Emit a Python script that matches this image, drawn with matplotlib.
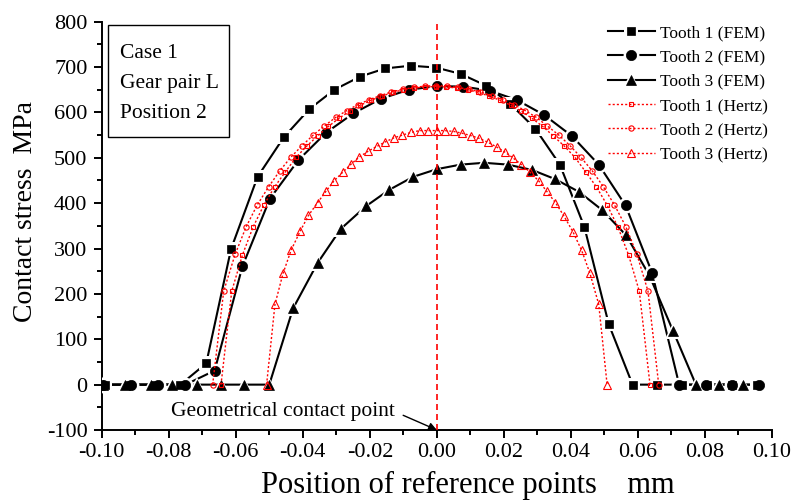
import matplotlib.pyplot as plt
from matplotlib.lines import Line2D
from matplotlib.patches import Rectangle
from matplotlib.ticker import MultipleLocator, FuncFormatter

plt.rcParams['font.family'] = ['Liberation Serif', 'DejaVu Serif']
plt.rcParams['axes.unicode_minus'] = False

# FEM results
x_fem1 = [-0.0990, -0.0915, -0.0840, -0.0765, -0.0688, -0.0614, -0.0535, -0.0457, -0.0381,
          -0.0306, -0.0229, -0.0154, -0.0078, -0.0003, 0.0071, 0.0147, 0.0219, 0.0294,
          0.0367, 0.0440, 0.0513, 0.0584, 0.0656, 0.0730, 0.0805, 0.0880, 0.0955]
y_fem1 = [0, 0, 0, 0, 47, 299, 458, 545, 607, 650, 679, 697, 703, 699, 685, 659, 619, 564,
          485, 348, 133, 0, 0, 0, 0, 0, 0]

x_fem2 = [-0.0996, -0.0914, -0.0831, -0.0750, -0.0663, -0.0580, -0.0498, -0.0413, -0.0331,
          -0.0249, -0.0167, -0.0084, 0.0000, 0.0078, 0.0158, 0.0240, 0.0321, 0.0403,
          0.0483, 0.0563, 0.0642, 0.0723, 0.0803, 0.0882, 0.0961]
y_fem2 = [0, 0, 0, 0, 31, 261, 410, 495, 555, 598, 630, 650, 658, 657, 648, 627, 594, 548,
          485, 395, 247, 0, 0, 0, 0]

x_fem3 = [-0.0995, -0.0929, -0.0854, -0.0789, -0.0715, -0.0644, -0.0576, -0.0500, -0.0429,
          -0.0356, -0.0287, -0.0212, -0.0143, -0.0071, 0.0000, 0.0071, 0.0141, 0.0212,
          0.0285, 0.0353, 0.0424, 0.0493, 0.0565, 0.0634, 0.0705, 0.0773, 0.0842, 0.0914]
y_fem3 = [0, 0, 0, 0, 0, 0, 0, 0, 168, 268, 343, 393, 429, 458, 475, 485, 489, 485,
          473, 453, 425, 385, 329, 241, 118, 0, 0, 0]

# Hertz theory
x_hz1 = [-0.0644, -0.0612, -0.0580, -0.0548, -0.0516, -0.0484, -0.0452, -0.0420, -0.0388,
         -0.0356, -0.0324, -0.0292, -0.0260, -0.0228, -0.0196, -0.0164, -0.0132, -0.0100,
         -0.0068, -0.0036, -0.0004, 0.0028, 0.0060, 0.0092, 0.0124, 0.0156, 0.0188,
         0.0220, 0.0252, 0.0284, 0.0316, 0.0348, 0.0380, 0.0412, 0.0444, 0.0476, 0.0508,
         0.0540, 0.0572, 0.0604, 0.0636]
y_hz1 = [0, 206, 286, 348, 396, 436, 469, 501, 526, 548, 569, 587, 603, 616, 627, 636, 644,
         650, 654, 656, 657, 656, 654, 650, 644, 636, 627, 616, 603, 587, 569, 548, 526,
         501, 469, 436, 396, 348, 286, 206, 0]

x_hz2 = [-0.0669, -0.0636, -0.0602, -0.0569, -0.0536, -0.0502, -0.0469, -0.0436, -0.0402,
         -0.0369, -0.0336, -0.0302, -0.0269, -0.0236, -0.0202, -0.0169, -0.0136, -0.0102,
         -0.0069, -0.0036, -0.0003, 0.0030, 0.0064, 0.0097, 0.0130, 0.0164, 0.0197,
         0.0230, 0.0264, 0.0297, 0.0330, 0.0364, 0.0397, 0.0430, 0.0464, 0.0497, 0.0530,
         0.0564, 0.0597, 0.0630, 0.0662]
y_hz2 = [0, 206, 287, 348, 396, 436, 471, 501, 527, 550, 570, 589, 604, 617, 628, 637, 645,
         651, 655, 658, 659, 658, 655, 651, 645, 637, 628, 617, 604, 589, 570, 550, 527,
         501, 471, 436, 396, 348, 287, 206, 0]

x_hz3 = [-0.0508, -0.0483, -0.0459, -0.0435, -0.0408, -0.0383, -0.0356, -0.0331, -0.0307,
         -0.0281, -0.0256, -0.0231, -0.0204, -0.0179, -0.0154, -0.0128, -0.0103, -0.0077,
         -0.0051, -0.0027, 0.0000, 0.0024, 0.0051, 0.0076, 0.0101, 0.0126, 0.0153, 0.0178,
         0.0202, 0.0227, 0.0252, 0.0277, 0.0304, 0.0328, 0.0354, 0.0379, 0.0406, 0.0432,
         0.0457, 0.0483, 0.0508]
y_hz3 = [0, 177, 245, 296, 338, 373, 401, 426, 449, 468, 486, 502, 515, 525, 535, 544, 550,
         556, 560, 560, 560, 560, 558, 554, 549, 543, 534, 524, 513, 500, 485, 469, 449,
         426, 401, 372, 337, 296, 245, 177, 0]

fem_labels = ['Tooth 1 (FEM)', 'Tooth 2 (FEM)', 'Tooth 3 (FEM)']
hertz_labels = ['Tooth 1 (Hertz)', 'Tooth 2 (Hertz)', 'Tooth 3 (Hertz)']
box_lines = ['Case 1', 'Gear pair L', 'Position 2']

fig = plt.figure(figsize=(7.94, 5.04), dpi=100)
ax = fig.add_axes([101.7 / 794, 1 - 430 / 504, (772 - 101.7) / 794, (430 - 21.7) / 504])

handles = []
fem = [(x_fem1, y_fem1, 's', 6.0), (x_fem2, y_fem2, 'o', 7.4), (x_fem3, y_fem3, '^', 7.4)]
for (xs, ys, m, ms), lab in zip(fem, fem_labels):
    ax.plot(xs, ys, color='k', lw=1.5, zorder=2)
    # white halo so the line stops short of each marker
    ax.plot(xs, ys, ls='none', marker=m, ms=ms + 4, mfc='white', mec='white', mew=0, zorder=3)
    ax.plot(xs, ys, ls='none', marker=m, ms=ms, mfc='k', mec='k', mew=0.5, zorder=4)
    h_line = Line2D([], [], color='k', lw=1.5)
    h_halo = Line2D([], [], ls='none', marker=m, ms=ms + 4, mfc='white', mec='white', mew=0)
    h_mark = Line2D([], [], ls='none', marker=m, ms=ms, mfc='k', mec='k', mew=0.5)
    handles.append((h_line, h_halo, h_mark))

hertz = [(x_hz1, y_hz1, 's', 3.2), (x_hz2, y_hz2, 'o', 3.8), (x_hz3, y_hz3, '^', 5.8)]
for xs, ys, m, ms in hertz:
    h, = ax.plot(xs, ys, color='red', lw=1, ls=(0, (1.5, 1.5)), marker=m, ms=ms,
                 mfc='none', mec='red', mew=0.8, zorder=5)
    handles.append(h)

ax.axvline(0, color='red', lw=1.2, ls=(0, (3.6, 2.4)), zorder=6)

ax.annotate('Geometrical contact point', xy=(0, -100), xytext=(-0.0792, -60),
            ha='left', va='center', fontsize=15.5,
            arrowprops=dict(arrowstyle='-|>', color='k', lw=1, relpos=(1, 0.5),
                            shrinkA=4, shrinkB=0, mutation_scale=12))

ax.add_patch(Rectangle((0.0094, 0.7176), 0.1806, 0.2744, transform=ax.transAxes,
                       fill=False, ec='k', lw=1, zorder=7))
for i, t in enumerate(box_lines):
    ax.text(0.027, 0.923 - i * 0.0735, t, transform=ax.transAxes, ha='left', va='center',
            fontsize=15.5)

ax.legend(handles, fem_labels + hertz_labels, loc='upper left',
          bbox_to_anchor=(608 / 794, 1 - 25 / 504), bbox_transform=fig.transFigure,
          frameon=False, fontsize=12.5, handlelength=2.7, handletextpad=0.3,
          labelspacing=0.47, borderpad=0, borderaxespad=0)

ax.set_xlim(-0.1, 0.1)
ax.set_ylim(-100, 800)
ax.xaxis.set_major_locator(MultipleLocator(0.02))
ax.xaxis.set_minor_locator(MultipleLocator(0.01))
ax.xaxis.set_major_formatter(FuncFormatter(lambda v, p: '0.00' if abs(v) < 1e-9 else f'{v:.2f}'))
ax.yaxis.set_major_locator(MultipleLocator(100))
ax.yaxis.set_minor_locator(MultipleLocator(50))
for s in ['top', 'right']:
    ax.spines[s].set_visible(False)
for s in ['left', 'bottom']:
    ax.spines[s].set_linewidth(1.4)
ax.tick_params(which='major', direction='out', length=5.8, width=1.4, labelsize=16)
ax.tick_params(which='minor', direction='out', length=3.6, width=1.4)
ax.tick_params(axis='x', pad=3.5)
ax.tick_params(axis='y', pad=4.5)

ax.set_xlabel('Position of reference points    mm', fontsize=22)
ax.set_ylabel('Contact stress  MPa', fontsize=20)
ax.xaxis.set_label_coords(0.546, -0.1)
ax.yaxis.set_label_coords(-0.095, 0.536)

fig.savefig('out.png', dpi=100)
